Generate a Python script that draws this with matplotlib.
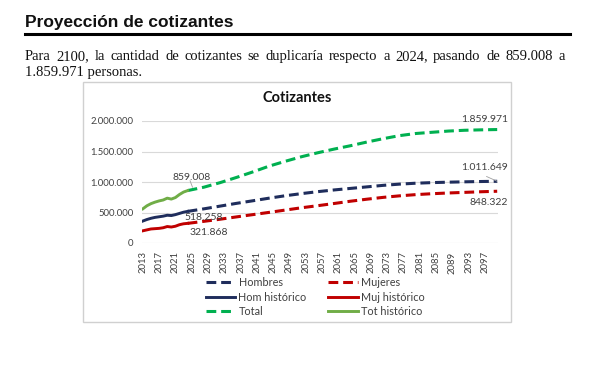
import matplotlib

matplotlib.use("Agg")
import matplotlib.pyplot as plt
from matplotlib.lines import Line2D
from matplotlib.patches import Rectangle

W, H = 600, 380

# historical series (thousands), 2013-2024
hist_years = list(range(2013, 2025))
tot_hist = [560, 610, 645, 670, 690, 705, 735, 720, 745, 795, 835, 859.008]
hom_hist = [360, 385, 405, 420, 430, 440, 455, 450, 465, 485, 505, 518.258]
muj_hist = [200, 215, 230, 235, 240, 250, 270, 262, 275, 300, 315, 321.868]

# projections (thousands), every 4 years 2024-2100
proj_years = list(range(2024, 2101, 4))
total = [859.008, 915, 990, 1075, 1165, 1260, 1340, 1415, 1480, 1540,
         1595, 1655, 1710, 1760, 1795, 1815, 1835, 1848, 1855, 1859.971]
hombres = [518.258, 560, 605, 650, 692, 735, 775, 810, 842, 870,
           895, 920, 945, 965, 980, 990, 997, 1003, 1008, 1011.649]
mujeres = [321.868, 355, 390, 428, 465, 502, 540, 578, 612, 648,
           685, 718, 748, 773, 793, 808, 820, 830, 840, 848.322]

tick_years = list(range(2013, 2100, 4))
y_ticks = [0, 500, 1000, 1500, 2000]
y_labels = ["0", "500.000", "1.000.000", "1.500.000", "2.000.000"]

NAVY = "#1f2d5c"
RED = "#c00000"
GREEN = "#00b050"
GREEN_H = "#70ad47"
GRAY = "#404040"
CHART_FONT = ["Lato", "DejaVu Sans"]


def fx(x):
    return x / W


def fy(y):
    return 1 - y / H


def justified_line(fig, words, x0, x1, y, **kw):
    r = fig.canvas.get_renderer()
    texts = [fig.text(0, fy(y), w, **kw) for w in words]
    widths = [t.get_window_extent(r).width for t in texts]
    gap = (x1 - x0 - sum(widths)) / (len(words) - 1)
    x = x0
    for t, w in zip(texts, widths):
        t.set_x(fx(x))
        x += w + gap


fig = plt.figure(figsize=(6, 3.8), dpi=100)

# page header
fig.text(fx(25), fy(27), "Proyección de cotizantes", fontsize=12.5, fontweight="bold",
         family="Liberation Sans", va="baseline", color="#111111")
fig.add_artist(Line2D([fx(25), fx(570)], [fy(34), fy(34)], color="black", linewidth=2.2))

para = dict(fontsize=10.5, family="Liberation Serif", va="baseline", color="#111111")
line1 = "Para 2100, la cantidad de cotizantes se duplicaría respecto a 2024, pasando de 859.008 a"
justified_line(fig, line1.split(), 25, 565, 60, **para)
fig.text(fx(25), fy(76), "1.859.971 personas.", **para)

# chart frame
frame = Rectangle((fx(83), fy(322)), fx(511 - 83), (322 - 82) / H,
                  facecolor="white", edgecolor="#d0d0d0", linewidth=1.0, zorder=-5)
fig.add_artist(frame)
fig.text(fx(297), fy(98), "Cotizantes", fontsize=10.5, fontweight="bold",
         family=CHART_FONT, ha="center", va="center", color="#111111")

ax = fig.add_axes([fx(142), fy(243), fx(498 - 142), (243 - 121) / H])
ax.set_zorder(2)
ax.patch.set_visible(False)
ax.set_xlim(2012.8, 2100.2)
ax.set_ylim(0, 2000)

dash = dict(linewidth=2.2, dashes=(3.2, 1.6))
ax.plot(proj_years, hombres, color=NAVY, label="Hombres", **dash)
ax.plot(hist_years, hom_hist, color=NAVY, linewidth=2.1, label="Hom histórico")
ax.plot(proj_years, total, color=GREEN, label="Total", **dash)
ax.plot(proj_years, mujeres, color=RED, label="Mujeres", **dash)
ax.plot(hist_years, muj_hist, color=RED, linewidth=2.1, label="Muj histórico")
ax.plot(hist_years, tot_hist, color=GREEN_H, linewidth=2.1, label="Tot histórico")

ax.set_yticks(y_ticks)
ax.set_yticklabels(y_labels)
ax.set_xticks(tick_years)
ax.set_xticklabels([str(y) for y in tick_years], rotation=90)
ax.tick_params(length=0, labelsize=6.8, labelcolor=GRAY, pad=6)
for lab in ax.get_xticklabels() + ax.get_yticklabels():
    lab.set_family(CHART_FONT)
ax.grid(axis="y", color="#d9d9d9", linewidth=0.8)
ax.set_axisbelow(True)
for s in ax.spines.values():
    s.set_visible(False)

lab = dict(fontsize=7.5, color=GRAY, family=CHART_FONT, va="center")
ax.text(2025.1, 1070, "859.008", ha="center", **lab)
ax.plot([2024.6, 2025.2], [1020, 915], color="#a0a0a0", linewidth=0.6)
ax.text(2028.0, 426, "518.258", ha="center", **lab)
ax.text(2029.3, 180, "321.868", ha="center", **lab)
ax.text(2102.7, 2030, "1.859.971", ha="right", **lab)
ax.text(2102.7, 1230, "1.011.649", ha="right", **lab)
ax.plot([2097.4, 2099.9], [1090, 1015], color="#a0a0a0", linewidth=0.6, clip_on=False)
ax.text(2102.7, 656, "848.322", ha="right", **lab)

leg = fig.legend(loc="upper left", bbox_to_anchor=(fx(206), fy(277)), ncol=2, frameon=False,
                 prop={"family": CHART_FONT, "size": 7.8}, labelcolor=GRAY,
                 handlelength=2.7, handletextpad=0.3, columnspacing=2.0,
                 labelspacing=0.33, borderpad=0, borderaxespad=0)
leg.set_zorder(3)

fig.savefig("out.png", dpi=100)
